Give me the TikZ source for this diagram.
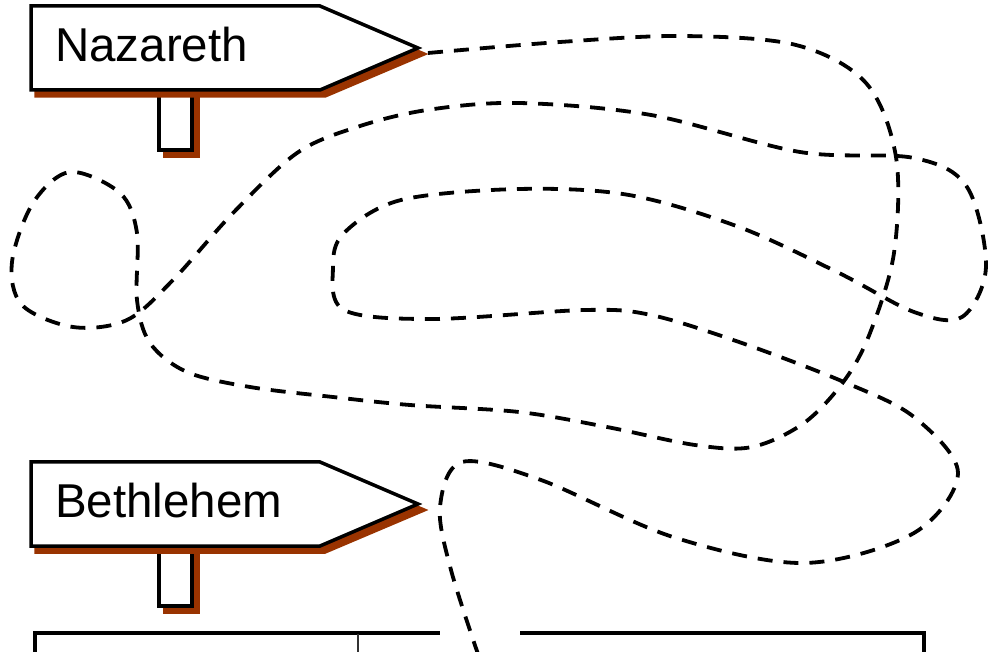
\documentclass[tikz,border=0pt]{standalone}
\usepackage{fontspec}
\setmainfont{Liberation Sans}
\definecolor{shadowbrown}{HTML}{993300}
\begin{document}
\begin{tikzpicture}[x=1pt,y=-1pt,
  signshadow/.style={fill=shadowbrown,draw=shadowbrown,line width=3.5pt,line join=miter},
  signbody/.style={fill=white,draw=black,line width=3.5pt,line join=miter},
  signtext/.style={anchor=base west,inner sep=0pt,font=\fontsize{47.5}{50}\selectfont},
  route/.style={draw=black,line width=3.8pt,dash pattern=on 15pt off 11pt},
  tableedge/.style={draw=black,line width=4pt},
  tablerule/.style={draw=black!80,line width=1.4pt}]
\useasboundingbox (0,0) rectangle (989,652);

% ---- Nazareth sign ----
\begin{scope}
  \fill[signshadow] (165,96) rectangle (198,156);
  \draw[signbody] (159,90) rectangle (192,150);
  \draw[signshadow] (36,12) -- (325,12) -- (424,54) -- (325,96) -- (36,96) -- cycle;
  \draw[signbody] (31,6) -- (320,6) -- (418,48) -- (320,90) -- (31,90) -- cycle;
  \node[signtext] (naz) at (55,62) {Nazareth};
  \coordinate (naztip) at (418,48);
\end{scope}

% ---- Bethlehem sign ----
\begin{scope}[yshift=-456pt]
  \fill[signshadow] (165,96) rectangle (198,156);
  \draw[signbody] (159,90) rectangle (192,150);
  \draw[signshadow] (36,12) -- (325,12) -- (424,54) -- (325,96) -- (36,96) -- cycle;
  \draw[signbody] (31,6) -- (320,6) -- (418,48) -- (320,90) -- (31,90) -- cycle;
  \node[signtext] (beth) at (55,62) {Bethlehem};
  \coordinate (bethtip) at (418,48);
\end{scope}

% ---- table at the bottom ----
\draw[tableedge] (35,665) -- (35,633) -- (440,633);
\draw[tableedge] (520,633) -- (924,633) -- (924,665);
\draw[tablerule] (358,634) -- (358,665);

% ---- winding route ----
\draw[route] plot[smooth,tension=0.55] coordinates {
  (428,53) (560,42) (682,36) (796,45) (866,83) (896,157) (894,253) (870,333)
  (844,381) (804,423) (752,447) (695,445) (607,427) (519,412) (410,405)
  (333,397) (250,387) (187,372) (150,343) (137,300) (137,233) (120,193)
  (70,172) (33,203) (12,262) (22,305) (73,327) (127,320) (173,280) (233,213)
  (297,153) (357,127) (427,110) (519,103) (651,115) (800,152) (914,158)
  (967,187) (986,267) (962,317) (914,312) (839,273) (739,227) (629,195)
  (519,189) (401,200) (344,233) (333,267) (344,310) (432,319) (585,310)
  (651,315) (739,342) (844,382) (914,417) (958,473) (914,533) (804,563)
  (673,537) (541,480) (462,462) (440,507) (451,570) (480,660)};
\end{tikzpicture}
\end{document}
